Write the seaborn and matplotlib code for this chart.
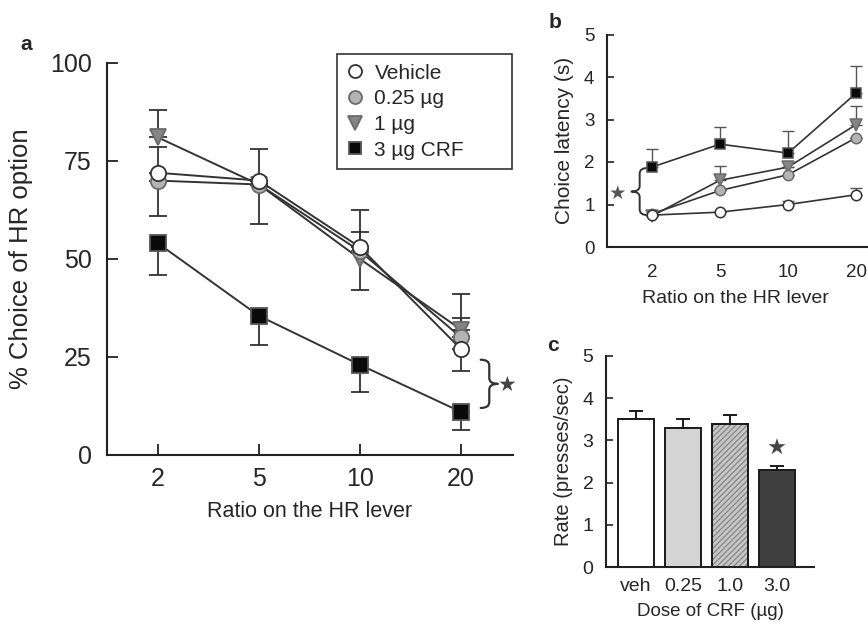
import numpy as np
import pandas as pd
import matplotlib
matplotlib.use("Agg")
import matplotlib.pyplot as plt
from matplotlib.path import Path
from matplotlib.patches import PathPatch, Rectangle
import seaborn as sns

# ---------------- data ----------------
ratios = ["2", "5", "10", "20"]
series_a = ["Vehicle", "0.25 µg", "1 µg", "3 µg CRF"]
choice_vehicle = [72, 70, 53, 27]
choice_025 = [70, 69, 52, 30]
choice_1 = [81, 69, 50, 32]
choice_3 = [54, 35.5, 23, 11]
# error bars (lower, upper) as drawn
err_vehicle_lo = [0, 0, 0, 5.5]
err_vehicle_hi = [6.6, 8, 9.5, 0]
err_025_lo = [9, 0, 0, 0]
err_025_hi = [0, 0, 0, 5]
err_1_lo = [0, 10, 8, 0]
err_1_hi = [7, 0, 7, 9]
err_3_lo = [8, 7.5, 7, 4.5]
err_3_hi = [0, 0, 0, 0]

lat_vehicle = [0.75, 0.82, 1.0, 1.23]
lat_025 = [0.78, 1.33, 1.70, 2.57]
lat_1 = [0.73, 1.57, 1.88, 2.88]
lat_3 = [1.88, 2.42, 2.21, 3.62]
lat_vehicle_err = [0, 0, 0.08, 0.15]
lat_025_err = [0, 0, 0, 0]
lat_1_err = [0, 0.34, 0, 0.43]
lat_3_err = [0.43, 0.40, 0.52, 0.65]

doses = ["veh", "0.25", "1.0", "3.0"]
rate = [3.5, 3.3, 3.4, 2.3]
rate_err = [0.2, 0.2, 0.2, 0.1]

# ---------------- style ----------------
sns.set_style("ticks")
plt.rcParams["font.family"] = ["Liberation Sans", "DejaVu Sans"]
plt.rcParams["hatch.linewidth"] = 1.0

fig = plt.figure(figsize=(8.68, 6.29), dpi=100)
W, H = 868, 629

def axes_px(x0, y_top, x1, y_bot):
    return fig.add_axes([x0 / W, 1 - y_bot / H, (x1 - x0) / W, (y_bot - y_top) / H])

line_c = "#333333"
styles = [
    dict(marker="o", mfc="white", mec="#333333"),
    dict(marker="o", mfc="#b4b4b4", mec="#6a6a6a"),
    dict(marker="v", mfc="#858585", mec="#6a6a6a"),
    dict(marker="s", mfc="#0a0a0a", mec="#555555"),
]

def style_axes(ax):
    for s in ["top", "right"]:
        ax.spines[s].set_visible(False)
    for s in ["left", "bottom"]:
        ax.spines[s].set_linewidth(1.5)
        ax.spines[s].set_color("#222222")

def brace(ax, xb, y0, y1, d, facing="right", lw=1.6, color="#333333"):
    ym = (y0 + y1) / 2.0
    q = (y1 - y0) * 0.12
    s = 1 if facing == "right" else -1
    xe = xb - s * d
    xt = xb + s * d
    verts = [(xe, y1), (xb, y1), (xb, y1 - q), (xb, ym + q), (xb, ym), (xt, ym),
             (xb, ym), (xb, ym - q), (xb, y0 + q), (xb, y0), (xe, y0)]
    codes = [Path.MOVETO, Path.CURVE3, Path.CURVE3, Path.LINETO, Path.CURVE3, Path.CURVE3,
             Path.CURVE3, Path.CURVE3, Path.LINETO, Path.CURVE3, Path.CURVE3]
    ax.add_patch(PathPatch(Path(verts, codes), fill=False, lw=lw, edgecolor=color,
                           clip_on=False, capstyle="round", joinstyle="round"))

# ---------------- panel a ----------------
axa = axes_px(107, 63, 513, 455)
style_axes(axa)
xa = np.arange(len(ratios))
data_a = [choice_vehicle, choice_025, choice_1, choice_3]
errs_a = [(err_vehicle_lo, err_vehicle_hi), (err_025_lo, err_025_hi),
          (err_1_lo, err_1_hi), (err_3_lo, err_3_hi)]
order = [3, 2, 1, 0]
for k, i in enumerate(order):
    lo, hi = errs_a[i]
    axa.errorbar(xa, data_a[i], yerr=[lo, hi], fmt="none", ecolor="#333333",
                 elinewidth=1.3, capsize=6.5, capthick=1.3, zorder=2 + k)
for k, i in enumerate(order):
    st = styles[i]
    sns.lineplot(x=xa, y=data_a[i], ax=axa, color=line_c, lw=1.4,
                 marker=st["marker"], markersize=11 if st["marker"] != "v" else 12,
                 markerfacecolor=st["mfc"], markeredgecolor=st["mec"],
                 markeredgewidth=1.3, label=series_a[i], zorder=5 + k)
axa.set_xlim(-0.505, 3.515)
axa.set_ylim(0, 100)
axa.set_xticks(xa, ratios)
axa.set_yticks([0, 25, 50, 75, 100])
axa.tick_params(direction="in", length=8, width=1.3, labelsize=18, pad=9, color="#222222")
axa.tick_params(axis="y", pad=11)
axa.set_xlabel("Ratio on the HR lever", fontsize=15.5, labelpad=7)
axa.set_ylabel("% Choice of HR option", fontsize=18.5, labelpad=12)
h, l = axa.get_legend_handles_labels()
idx = [l.index(s) for s in series_a]
leg_x0 = (337 - 107) / 406
leg_w = (512 - 337) / 406
leg = axa.legend([h[j] for j in idx], [l[j] for j in idx], loc="upper left",
                 bbox_to_anchor=(leg_x0, 1.022, leg_w, 0), mode="expand",
                 borderaxespad=0, fancybox=False,
                 edgecolor="#333333", framealpha=1, fontsize=15, handlelength=0.8,
                 handletextpad=0.55, labelspacing=0.32, borderpad=0.45, markerscale=0.85)
leg.get_frame().set_linewidth(1.2)
for line in leg.get_lines():
    line.set_linestyle("none")
brace(axa, 3.28, 12, 24.3, 0.085, facing="right")
axa.text(3.46, 17.9, "★", fontsize=15, ha="center", va="center", color="#444444",
         clip_on=False, family="DejaVu Sans")
fig.text(20 / W, 1 - 45 / H, "a", fontsize=15, fontweight="bold", va="center")

# ---------------- panel b ----------------
axb = axes_px(607, 34.5, 897, 247)
style_axes(axb)
data_b = [lat_vehicle, lat_025, lat_1, lat_3]
errs_b = [lat_vehicle_err, lat_025_err, lat_1_err, lat_3_err]
for k, i in enumerate(order):
    axb.errorbar(xa, data_b[i], yerr=[np.zeros(4), errs_b[i]], fmt="none",
                 ecolor="#555555", elinewidth=1.0, capsize=4, capthick=1.0, zorder=2 + k)
for k, i in enumerate(order):
    st = styles[i]
    sns.lineplot(x=xa, y=data_b[i], ax=axb, color=line_c, lw=1.2,
                 marker=st["marker"], markersize=7.5 if st["marker"] != "v" else 8.5,
                 markerfacecolor=st["mfc"], markeredgecolor=st["mec"],
                 markeredgewidth=1.1, zorder=5 + k, legend=False)
axb.set_xlim(-0.66, 3.6)
axb.set_ylim(0, 5)
axb.set_xticks(xa, ratios)
axb.set_yticks([0, 1, 2, 3, 4, 5])
axb.tick_params(axis="x", length=0, labelsize=13.5, pad=12)
axb.tick_params(axis="y", direction="in", length=5, width=1.2, labelsize=13.5, pad=9,
                color="#222222")
axb.set_xlabel("Ratio on the HR lever", fontsize=14, labelpad=8)
axb.xaxis.set_label_coords((735 - 607) / (897 - 607), -0.2)
axb.set_ylabel("Choice latency (s)", fontsize=15, labelpad=7)
brace(axb, -0.18, 0.75, 1.86, 0.12, facing="left", lw=1.4)
axb.text(-0.5, 1.27, "★", fontsize=14, ha="center", va="center", color="#555555",
         family="DejaVu Sans")
fig.text(555 / W, 1 - 22 / H, "b", fontsize=15, fontweight="bold", va="center",
         ha="center")

# ---------------- panel c ----------------
axc = axes_px(606, 356, 814, 567)
style_axes(axc)
df_c = pd.DataFrame({"dose": doses, "rate": rate})
bar_colors = ["#ffffff", "#d4d4d4", "#c8c8c8", "#3f3f3f"]
sns.barplot(data=df_c, x="dose", y="rate", hue="dose", palette=bar_colors,
            order=doses, width=0.76, edgecolor="#1a1a1a", linewidth=1.4,
            legend=False, ax=axc, zorder=3)
hp = axc.patches[2]
hp.set_hatch("//////")
hp.set_edgecolor("#8a8a8a")
axc.add_patch(Rectangle(hp.get_xy(), hp.get_width(), hp.get_height(), fill=False,
                        edgecolor="#1a1a1a", linewidth=1.4, zorder=4))
axc.errorbar(np.arange(4), rate, yerr=[np.zeros(4), rate_err], fmt="none",
             ecolor="#1a1a1a", elinewidth=1.4, capsize=5, capthick=1.4, zorder=2)
axc.set_xlim(-0.64, 3.79)
axc.set_ylim(0, 5)
axc.set_yticks([0, 1, 2, 3, 4, 5])
axc.tick_params(axis="x", length=0, labelsize=14, pad=8)
axc.tick_params(axis="y", direction="in", length=5, width=1.2, labelsize=14, pad=9,
                color="#222222")
axc.set_xlabel("Dose of CRF (µg)", fontsize=13.5, labelpad=6)
axc.set_ylabel("Rate (presses/sec)", fontsize=14.5, labelpad=7)
axc.text(3, 2.8, "★", fontsize=16, ha="center", va="center", color="#444444",
         family="DejaVu Sans")
fig.text(553 / W, 1 - 345 / H, "c", fontsize=15, fontweight="bold", va="center",
         ha="center")

fig.savefig("out.png", dpi=100)
